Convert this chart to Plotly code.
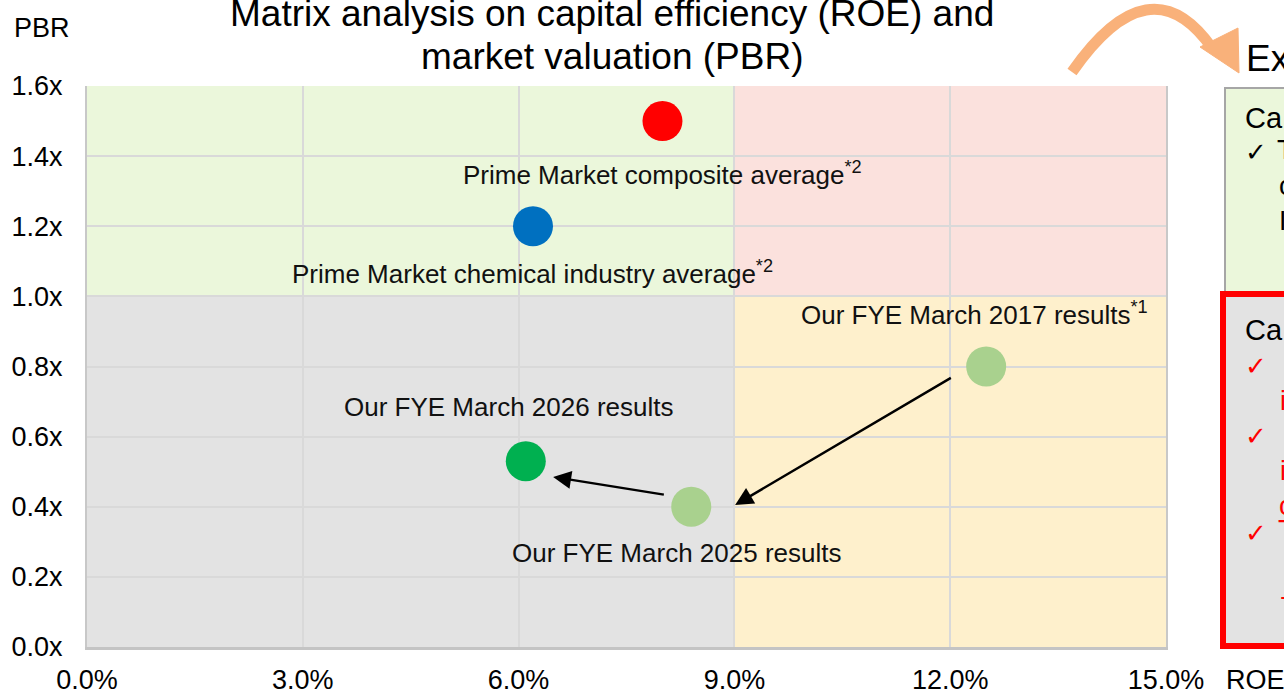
import plotly.graph_objects as go

# ---- data ----
point_names = [
    "Prime Market composite average<sup>*2</sup>",
    "Prime Market chemical industry average<sup>*2</sup>",
    "Our FYE March 2017 results<sup>*1</sup>",
    "Our FYE March 2025 results",
    "Our FYE March 2026 results",
]
roe_values = [8.0, 6.2, 12.5, 8.4, 6.1]
pbr_values = [1.5, 1.2, 0.8, 0.4, 0.53]
point_colors = ["#FF0000", "#0070C0", "#A9D18E", "#A9D18E", "#00B050"]
label_shift_x = [0, 0, -12, -15, -17]
label_shift_y = [-52, -46, 53, -46, 54]

x_ticks = [0, 3, 6, 9, 12, 15]
y_ticks = [0.0, 0.2, 0.4, 0.6, 0.8, 1.0, 1.2, 1.4, 1.6]
roe_threshold = 9.0
pbr_threshold = 1.0
x_range = [0, 15]
y_range = [0, 1.6]

title_lines = ["Matrix analysis on capital efficiency (ROE) and", "market valuation (PBR)"]

# arrows: (tail_x, tail_y, head_x, head_y)
arrow_tails_x = [12.03, 8.04]
arrow_tails_y = [0.77, 0.434]
arrow_heads_x = [9.01, 6.48]
arrow_heads_y = [0.405, 0.485]

FONT = "Arial, Liberation Sans, sans-serif"

W, H = 1284, 692
L, R, T, B = 87, 118, 86, 45
pw, ph = W - L - R, H - T - B


def px2paper(px, py):
    return (px - L) / pw, 1 - (py - T) / ph


fig = go.Figure()

# quadrant backgrounds
quadrants = [
    (x_range[0], roe_threshold, pbr_threshold, y_range[1], "#EBF7DB"),
    (roe_threshold, x_range[1], pbr_threshold, y_range[1], "#FBE1DD"),
    (x_range[0], roe_threshold, y_range[0], pbr_threshold, "#E3E3E3"),
    (roe_threshold, x_range[1], y_range[0], pbr_threshold, "#FEF0CC"),
]
for x0, x1, y0, y1, c in quadrants:
    fig.add_shape(type="rect", xref="x", yref="y", x0=x0, x1=x1, y0=y0, y1=y1,
                  fillcolor=c, line_width=0, layer="below")

fig.add_trace(go.Scatter(
    x=roe_values, y=pbr_values, mode="markers",
    marker=dict(size=40, color=point_colors, line=dict(width=0)),
    showlegend=False, hoverinfo="skip", cliponaxis=False,
))

for name, xv, yv, dx, dy in zip(point_names, roe_values, pbr_values, label_shift_x, label_shift_y):
    fig.add_annotation(x=xv, y=yv, xref="x", yref="y", text=name, showarrow=False,
                       xshift=dx, yshift=dy, font=dict(family=FONT, size=26, color="#111111"))

for tx, ty, hx, hy in zip(arrow_tails_x, arrow_tails_y, arrow_heads_x, arrow_heads_y):
    fig.add_annotation(x=hx, y=hy, ax=tx, ay=ty, xref="x", yref="y", axref="x", ayref="y",
                       text="", showarrow=True, arrowhead=2, arrowsize=1.5, arrowwidth=2.4,
                       arrowcolor="#000000")

# ---- title (two lines) ----
for line, py in zip(title_lines, [14, 57]):
    xp, yp = px2paper(612, py)
    fig.add_annotation(xref="paper", yref="paper", x=xp, y=yp, text=line, showarrow=False,
                       xanchor="center", yanchor="middle",
                       font=dict(family=FONT, size=37, color="#000000"))

# ---- right-hand side slide elements ----
# orange curved arrow
a0 = px2paper(1072, 72)
a1 = px2paper(1150, -40)
a2 = px2paper(1212, 48)
fig.add_shape(type="path", xref="paper", yref="paper",
              path=f"M {a0[0]} {a0[1]} Q {a1[0]} {a1[1]} {a2[0]} {a2[1]}",
              line=dict(color="#F9B17A", width=11), layer="above")
t0 = px2paper(1200, 47)
t1 = px2paper(1238, 28)
t2 = px2paper(1239, 73)
fig.add_shape(type="path", xref="paper", yref="paper",
              path=f"M {t0[0]} {t0[1]} L {t1[0]} {t1[1]} L {t2[0]} {t2[1]} Z",
              fillcolor="#F9B17A", line=dict(color="#F9B17A", width=1), layer="above")

# green box
g0 = px2paper(1225, 88)
g1 = px2paper(1300, 292)
fig.add_shape(type="rect", xref="paper", yref="paper", x0=g0[0], x1=g1[0], y0=g1[1], y1=g0[1],
              fillcolor="#EBF7DB", line=dict(color="#A6A6A6", width=2), layer="above")
# red box
r0 = px2paper(1223, 294)
r1 = px2paper(1300, 646)
fig.add_shape(type="rect", xref="paper", yref="paper", x0=r0[0], x1=r1[0], y0=r1[1], y1=r0[1],
              fillcolor="#E3E3E3", line=dict(color="#FF0000", width=6), layer="above")

side_texts = [
    ("Ex", 1244, 58, 37, "#000000"),
    ("Ca", 1243, 118, 29, "#000000"),
    ("✓", 1243, 152, 26, "#000000"),
    ("T", 1275, 150, 27, "#000000"),
    ("c", 1277, 186, 27, "#000000"),
    ("I", 1277, 221, 27, "#000000"),
    ("Ca", 1243, 330, 29, "#000000"),
    ("✓", 1243, 366, 26, "#FF0000"),
    ("i", 1278, 401, 27, "#FF0000"),
    ("✓", 1243, 436, 26, "#FF0000"),
    ("i", 1278, 471, 27, "#FF0000"),
    ("c", 1277, 506, 27, "#FF0000"),
    ("✓", 1243, 533, 26, "#FF0000"),
    ("T", 1276, 530, 27, "#FF0000"),
    ("+", 1278, 598, 27, "#FF0000"),
]

for txt, px, py, fs, col in side_texts:
    xp, yp = px2paper(px, py)
    fig.add_annotation(xref="paper", yref="paper", x=xp, y=yp,
                       text=txt, showarrow=False, xanchor="left", yanchor="middle",
                       font=dict(family=FONT, size=fs, color=col))

xp, yp = px2paper(1224, 680)
fig.add_annotation(xref="paper", yref="paper", x=xp, y=yp,
                   text="ROE", showarrow=False, xanchor="left", yanchor="middle",
                   font=dict(family=FONT, size=27, color="#000000"))
xp, yp = px2paper(12, 28)
fig.add_annotation(xref="paper", yref="paper", x=xp, y=yp,
                   text="PBR", showarrow=False, xanchor="left", yanchor="middle",
                   font=dict(family=FONT, size=27, color="#000000"))

fig.update_layout(
    width=W, height=H,
    margin=dict(l=L, r=R, t=T, b=B, autoexpand=False),
    paper_bgcolor="white", plot_bgcolor="white",
    font=dict(family=FONT, color="#000000"),
)
fig.update_xaxes(range=x_range, tickvals=x_ticks, ticktext=[f"{v:.1f}%" for v in x_ticks],
                 showgrid=True, gridcolor="#D9D9D9", gridwidth=2, zeroline=False,
                 showline=True, linecolor="#C4C4C4", linewidth=3, mirror=False,
                 tickfont=dict(family=FONT, size=27, color="#000000"), ticks="",
                 ticklabelstandoff=7, automargin=False)
fig.update_yaxes(range=y_range, tickvals=y_ticks, ticktext=[f"{v:.1f}x" for v in y_ticks],
                 showgrid=True, gridcolor="#D9D9D9", gridwidth=2, zeroline=False,
                 showline=True, linecolor="#C8C8C8", linewidth=2, mirror=True,
                 tickfont=dict(family=FONT, size=27, color="#000000"), ticks="",
                 ticklabelstandoff=17, automargin=False)

fig.write_html("out.html", config={"displayModeBar": False},
               post_script="document.body.style.margin='0px';")
